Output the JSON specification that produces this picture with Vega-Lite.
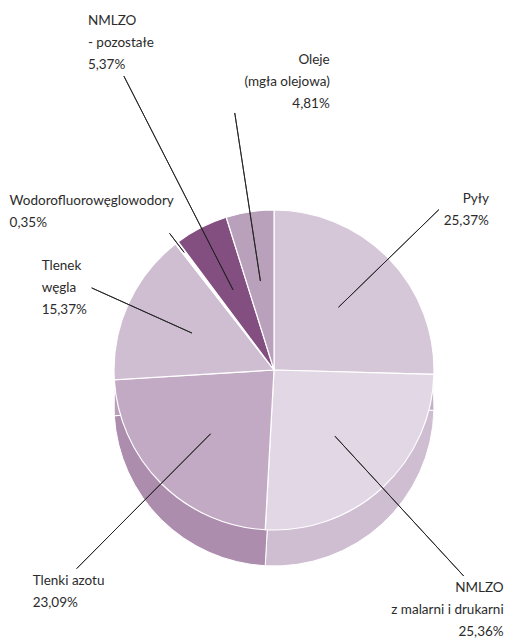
{
  "$schema": "https://vega.github.io/schema/vega-lite/v6.json",
  "width": 464,
  "height": 544,
  "autosize": "none",
  "padding": {"left": 42, "top": 98, "right": 0, "bottom": 0},
  "background": "#ffffff",
  "config": {
    "view": {"stroke": null},
    "text": {"font": "Lato", "fontSize": 13.5, "lineHeight": 22, "fill": "#2b2b2b", "lineBreak": "\n"}
  },
  "data": {
    "values": [
      {"i": 0, "name": "Pyły", "value": 25.37, "label": "Pyły\n25,37%"},
      {"i": 1, "name": "NMLZO z malarni i drukarni", "value": 25.36, "label": "NMLZO\nz malarni  i  drukarni\n25,36%"},
      {"i": 2, "name": "Tlenki azotu", "value": 23.09, "label": "Tlenki azotu\n23,09%"},
      {"i": 3, "name": "Tlenek węgla", "value": 15.37, "label": "Tlenek\nwęgla\n15,37%"},
      {"i": 4, "name": "Wodorofluorowęglowodory", "value": 0.35, "label": "Wodorofluorowęglowodory\n0,35%"},
      {"i": 5, "name": "NMLZO - pozostałe", "value": 5.37, "label": "NMLZO\n- pozostałe\n5,37%"},
      {"i": 6, "name": "Oleje (mgła olejowa)", "value": 4.81, "label": "Oleje\n(mgła olejowa)\n4,81%"}
    ]
  },
  "encoding": {
    "theta": {"field": "value", "type": "quantitative", "stack": true},
    "order": {"field": "i", "type": "quantitative"}
  },
  "layer": [
    {
      "mark": {"type": "arc", "outerRadius": 160, "yOffset": 36, "stroke": "#ffffff", "strokeWidth": 1},
      "encoding": {
        "color": {
          "field": "name", "type": "nominal", "legend": null,
          "scale": {
            "domain": ["Pyły", "NMLZO z malarni i drukarni", "Tlenki azotu", "Tlenek węgla", "Wodorofluorowęglowodory", "NMLZO - pozostałe", "Oleje (mgła olejowa)"],
            "range": ["#c4b0c7", "#cfbdd1", "#ad8dad", "#b99fba", "#eeeeee", "#6d3d6a", "#a688a8"]
          }
        }
      }
    },
    {
      "mark": {"type": "arc", "outerRadius": 160, "stroke": "#ffffff", "strokeWidth": 1.2},
      "encoding": {
        "color": {
          "field": "name", "type": "nominal", "legend": null,
          "scale": {
            "domain": ["Pyły", "NMLZO z malarni i drukarni", "Tlenki azotu", "Tlenek węgla", "Wodorofluorowęglowodory", "NMLZO - pozostałe", "Oleje (mgła olejowa)"],
            "range": ["#d5c6d8", "#e2d7e5", "#c3aac4", "#cfbdd2", "#ffffff", "#834e80", "#b9a1bc"]
          }
        }
      }
    },
    {
      "mark": {"type": "arc", "filled": false, "padAngle": 3, "radius": 280, "radius2": 90, "stroke": "#222222", "strokeWidth": 0.9},
      "encoding": {
        "strokeOpacity": {"condition": {"test": {"field": "name", "oneOf": ["NMLZO z malarni i drukarni", "Tlenki azotu"]}, "value": 1}, "value": 0}
      }
    },
    {
      "mark": {"type": "arc", "filled": false, "padAngle": 3, "radius": 230, "radius2": 90, "stroke": "#222222", "strokeWidth": 0.9},
      "encoding": {
        "strokeOpacity": {"condition": {"test": {"field": "name", "oneOf": ["Pyły"]}, "value": 1}, "value": 0}
      }
    },
    {
      "mark": {"type": "arc", "filled": false, "padAngle": 3, "radius": 200, "radius2": 90, "stroke": "#222222", "strokeWidth": 0.9},
      "encoding": {
        "strokeOpacity": {"condition": {"test": {"field": "name", "oneOf": ["Tlenek węgla"]}, "value": 1}, "value": 0}
      }
    },
    {
      "mark": {"type": "arc", "filled": false, "padAngle": 3, "radius": 172, "radius2": 148, "stroke": "#222222", "strokeWidth": 0.9},
      "encoding": {
        "strokeOpacity": {"condition": {"test": {"field": "name", "oneOf": ["Wodorofluorowęglowodory"]}, "value": 1}, "value": 0}
      }
    },
    {
      "mark": {"type": "arc", "filled": false, "padAngle": 3, "radius": 330, "radius2": 90, "stroke": "#222222", "strokeWidth": 0.9},
      "encoding": {
        "strokeOpacity": {"condition": {"test": {"field": "name", "oneOf": ["NMLZO - pozostałe"]}, "value": 1}, "value": 0}
      }
    },
    {
      "mark": {"type": "arc", "filled": false, "padAngle": 3, "radius": 260, "radius2": 90, "stroke": "#222222", "strokeWidth": 0.9},
      "encoding": {
        "strokeOpacity": {"condition": {"test": {"field": "name", "oneOf": ["Oleje (mgła olejowa)"]}, "value": 1}, "value": 0}
      }
    },
    {
      "mark": {"type": "text", "align": "right", "baseline": "middle", "dx": 50, "dy": -11},
      "encoding": {
        "radius": {"value": 230},
        "text": {"condition": {"test": {"field": "name", "oneOf": ["Pyły"]}, "field": "label"}, "value": ""}
      }
    },
    {
      "mark": {"type": "text", "align": "right", "baseline": "top", "dx": 40, "dy": 5},
      "encoding": {
        "radius": {"value": 280},
        "text": {"condition": {"test": {"field": "name", "oneOf": ["NMLZO z malarni i drukarni"]}, "field": "label"}, "value": ""}
      }
    },
    {
      "mark": {"type": "text", "align": "left", "baseline": "top", "dx": -44, "dy": 5},
      "encoding": {
        "radius": {"value": 280},
        "text": {"condition": {"test": {"field": "name", "oneOf": ["Tlenki azotu"]}, "field": "label"}, "value": ""}
      }
    },
    {
      "mark": {"type": "text", "align": "left", "baseline": "middle", "dx": -50, "dy": -22},
      "encoding": {
        "radius": {"value": 200},
        "text": {"condition": {"test": {"field": "name", "oneOf": ["Tlenek węgla"]}, "field": "label"}, "value": ""}
      }
    },
    {
      "mark": {"type": "text", "align": "left", "baseline": "bottom", "dx": -160, "dy": -25},
      "encoding": {
        "radius": {"value": 172},
        "text": {"condition": {"test": {"field": "name", "oneOf": ["Wodorofluorowęglowodory"]}, "field": "label"}, "value": ""}
      }
    },
    {
      "mark": {"type": "text", "align": "left", "baseline": "bottom", "dx": -36, "dy": -48},
      "encoding": {
        "radius": {"value": 330},
        "text": {"condition": {"test": {"field": "name", "oneOf": ["NMLZO - pozostałe"]}, "field": "label"}, "value": ""}
      }
    },
    {
      "mark": {"type": "text", "align": "right", "baseline": "bottom", "dx": 95, "dy": -46},
      "encoding": {
        "radius": {"value": 260},
        "text": {"condition": {"test": {"field": "name", "oneOf": ["Oleje (mgła olejowa)"]}, "field": "label"}, "value": ""}
      }
    }
  ],
  "resolve": {"scale": {"color": "independent"}}
}
